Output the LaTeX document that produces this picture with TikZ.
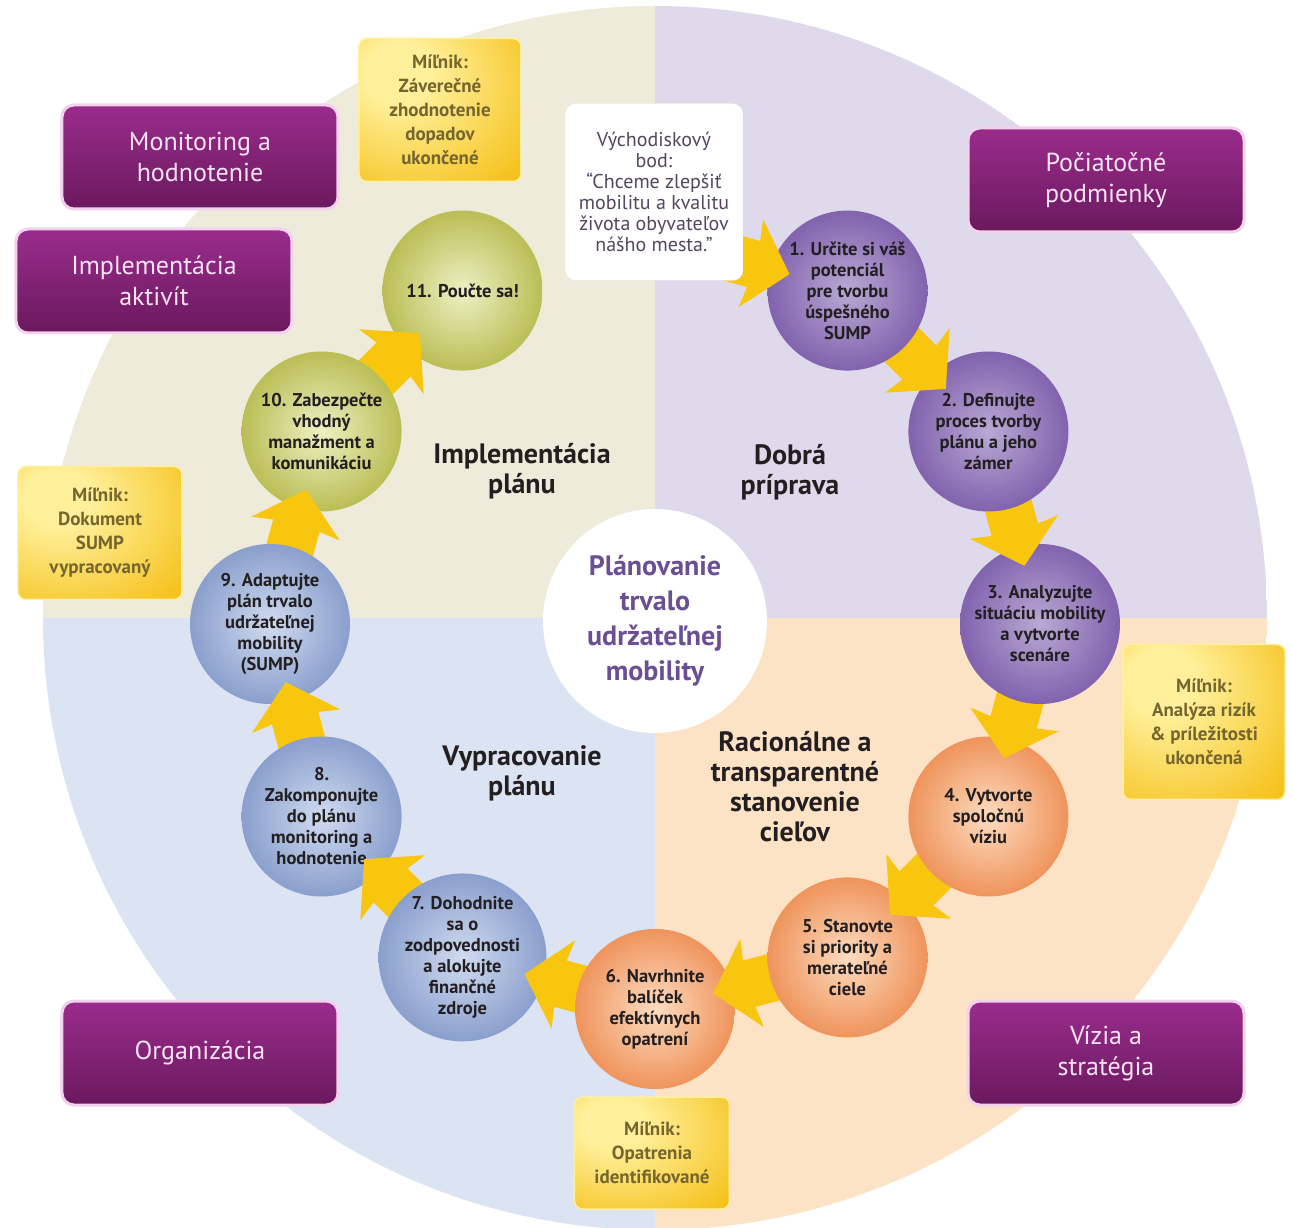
\documentclass[tikz,border=0pt]{standalone}
\usepackage{fontspec}
\setmainfont{PT Sans}
\usepackage{tikz}
\usetikzlibrary{arrows.meta, positioning}

\definecolor{qbeige}{HTML}{EEEBDB}
\definecolor{qlav}{HTML}{DFD9EC}
\definecolor{qblue}{HTML}{DCE3F2}
\definecolor{qpeach}{HTML}{FDE3C6}
\definecolor{pIn}{HTML}{B9A9D4}
\definecolor{pOut}{HTML}{8163AE}
\definecolor{oIn}{HTML}{FDDCC0}
\definecolor{oOut}{HTML}{EF945C}
\definecolor{bIn}{HTML}{D0DBF0}
\definecolor{bOut}{HTML}{8A9FCD}
\definecolor{gIn}{HTML}{EEF0C4}
\definecolor{gOut}{HTML}{BABE55}
\definecolor{arrowgold}{HTML}{F9C60F}
\definecolor{boxtop}{HTML}{9A2C8C}
\definecolor{boxbot}{HTML}{6A195E}
\definecolor{boxrim}{HTML}{F2D2EC}
\definecolor{boxtext}{HTML}{F7E3F3}
\definecolor{msIn}{HTML}{FFF19C}
\definecolor{msOut}{HTML}{F5BF16}
\definecolor{mstext}{HTML}{75652E}
\definecolor{hubtext}{HTML}{6B4F93}
\definecolor{starttext}{HTML}{54465F}
\definecolor{ink}{HTML}{231F20}

% pale yellow fading into gold towards the lower right
\pgfdeclareradialshading{mileshade}{\pgfpoint{-15bp}{15bp}}{color(0bp)=(msIn); color(10bp)=(msIn); color(44bp)=(msOut); color(80bp)=(msOut)}

\newcommand\stagefont{\bfseries\fontsize{18.5}{21}\selectfont}
\newcommand\milefont{\bfseries\fontsize{19}{24}\selectfont}
\newcommand\phasefont{\fontsize{26}{31}\selectfont}
\newcommand\titlefont{\bfseries\fontsize{28}{30}\selectfont}
\newcommand\hubfont{\bfseries\fontsize{28}{35}\selectfont}
\newcommand\startfont{\fontsize{20}{21}\selectfont}

\tikzset{
x=1pt, y=1pt, % one unit is one pixel of the layout
stage/.style={circle, minimum size=160pt, inner sep=0pt, align=center, text=ink, font=\stagefont}, % the eleven steps
stageP/.style={stage, inner color=pIn, outer color=pOut}, % good preparation
stageO/.style={stage, inner color=oIn, outer color=oOut}, % goal setting
stageB/.style={stage, inner color=bIn, outer color=bOut}, % plan elaboration
stageG/.style={stage, inner color=gIn, outer color=gOut}, % implementation
flow/.style={-{Stealth[length=40pt, width=90pt, inset=6pt]}, line width=48pt, draw=arrowgold, shorten >=-20pt}, % fat yellow arrows
milestone/.style={rectangle, rounded corners=8pt, shading=mileshade, draw=msIn, line width=1.5pt, align=center, text=mstext, font=\milefont},
phase/.style={rectangle, rounded corners=12pt, top color=boxtop, bottom color=boxbot, draw=boxrim, line width=3pt, minimum width=276pt, minimum height=104pt, align=center, text=boxtext, font=\phasefont},
title/.style={align=center, text=ink, font=\titlefont},
startbox/.style={rectangle, rounded corners=10pt, fill=white, draw=black!12, minimum width=178pt, minimum height=177pt, align=center, text=starttext, font=\startfont},
hub/.style={circle, fill=white, minimum size=224pt, inner sep=0pt, align=center, text=hubtext, font=\hubfont},
}

\begin{document}
\begin{tikzpicture}
\useasboundingbox (-655,-610) rectangle (636,618);
\fill[white] (-655,-610) rectangle (636,618);

% four quarters
\begin{scope}
\clip (0,0) circle (612);
\fill[qbeige] (-612,0) rectangle (0,612);
\fill[qlav] (0,0) rectangle (612,612);
\fill[qblue] (-612,-612) rectangle (0,0);
\fill[qpeach] (0,-612) rectangle (612,0);
\end{scope}

\node[hub] (hub) at (0,-3) {Plánovanie\\trvalo\\udržateľnej\\mobility};

\node[title] (tImpl) at (-133,147) {Implementácia\\plánu};
\node[title] (tPrep) at (135,146) {Dobrá\\príprava};
\node[title] (tElab) at (-133,-155) {Vypracovanie\\plánu};
\node[title] (tGoal) at (140,-169) {Racionálne a\\transparentné\\stanovenie\\cieľov};

\node[phase] (monit) at (-455,461) {Monitoring a\\hodnotenie};
\node[phase] (activ) at (-501,337) {Implementácia\\aktivít};
\node[phase] (cond) at (451,438) {Počiatočné\\podmienky};
\node[phase] (organ) at (-455,-435) {Organizácia};
\node[phase] (vision) at (451,-435) {Vízia a\\stratégia};

\node[milestone, minimum width=162pt, minimum height=143pt] (mTop) at (-215,508) {Míľnik:\\Záverečné\\zhodnotenie\\dopadov\\ukončené};
\node[milestone, minimum width=164pt, minimum height=133pt] (mLeft) at (-555,85) {Míľnik:\\Dokument\\SUMP\\vypracovaný};
\node[milestone, minimum width=162pt, minimum height=155pt] (mRight) at (549,-104) {Míľnik:\\Analýza rizík\\\& príležitosti\\ukončená};
\node[milestone, minimum width=155pt, minimum height=112pt] (mBot) at (-3,-535) {Míľnik:\\Opatrenia\\identifikované};

% centres of the steps on a ring
\begin{scope}[shift={(0,-6)}]
\coordinate (p1) at (60:385);
\coordinate (p2) at (30:385);
\coordinate (p3) at (0:385);
\coordinate (p4) at (-30:385);
\coordinate (p5) at (-60:385);
\coordinate (p6) at (-90:385);
\coordinate (p7) at (-120:385);
\coordinate (p8) at (-150:385);
\coordinate (p9) at (180:385);
\coordinate (p10) at (150:385);
\coordinate (p11) at (120:385);
\end{scope}
\coordinate (stin) at (70,362);

% steps, last one first, so each arrow runs out from under its step
\node[stageG] (s11) at (p11) {11. Poučte sa!};
\draw[flow] (p10) -- (s11);
\node[stageG] (s10) at (p10) {10. Zabezpečte\\vhodný\\manažment a\\komunikáciu};
\draw[flow] (p9) -- (s10);
\node[stageB] (s9) at (p9) {9. Adaptujte\\plán trvalo\\udržateľnej\\mobility\\(SUMP)};
\draw[flow] (p8) -- (s9);
\node[stageB] (s8) at (p8) {8.\\Zakomponujte\\do plánu\\monitoring a\\hodnotenie};
\draw[flow] (p7) -- (s8);
\node[stageB] (s7) at (p7) {7. Dohodnite\\sa o\\zodpovednosti\\a alokujte\\finančné\\zdroje};
\draw[flow] (p6) -- (s7);
\node[stageO] (s6) at (p6) {6. Navrhnite\\balíček\\efektívnych\\opatrení};
\draw[flow] (p5) -- (s6);
\node[stageO] (s5) at (p5) {5. Stanovte\\si priority a\\merateľné\\ciele};
\draw[flow] (p4) -- (s5);
\node[stageO] (s4) at (p4) {4. Vytvorte\\spoločnú\\víziu};
\draw[flow] (p3) -- (s4);
\node[stageP] (s3) at (p3) {3. Analyzujte\\situáciu mobility\\a vytvorte\\scenáre};
\draw[flow] (p2) -- (s3);
\node[stageP] (s2) at (p2) {2. Definujte\\proces tvorby\\plánu a jeho\\zámer};
\draw[flow] (p1) -- (s2);
\node[stageP] (s1) at (p1) {1. Určite si váš\\potenciál\\pre tvorbu\\úspešného\\SUMP};
\draw[flow] (stin) -- (s1);

\node[startbox] (start) at (-1,426) {Východiskový\\bod:\\“Chceme zlepšiť\\mobilitu a kvalitu\\života obyvateľov\\nášho mesta.”};
\end{tikzpicture}
\end{document}
